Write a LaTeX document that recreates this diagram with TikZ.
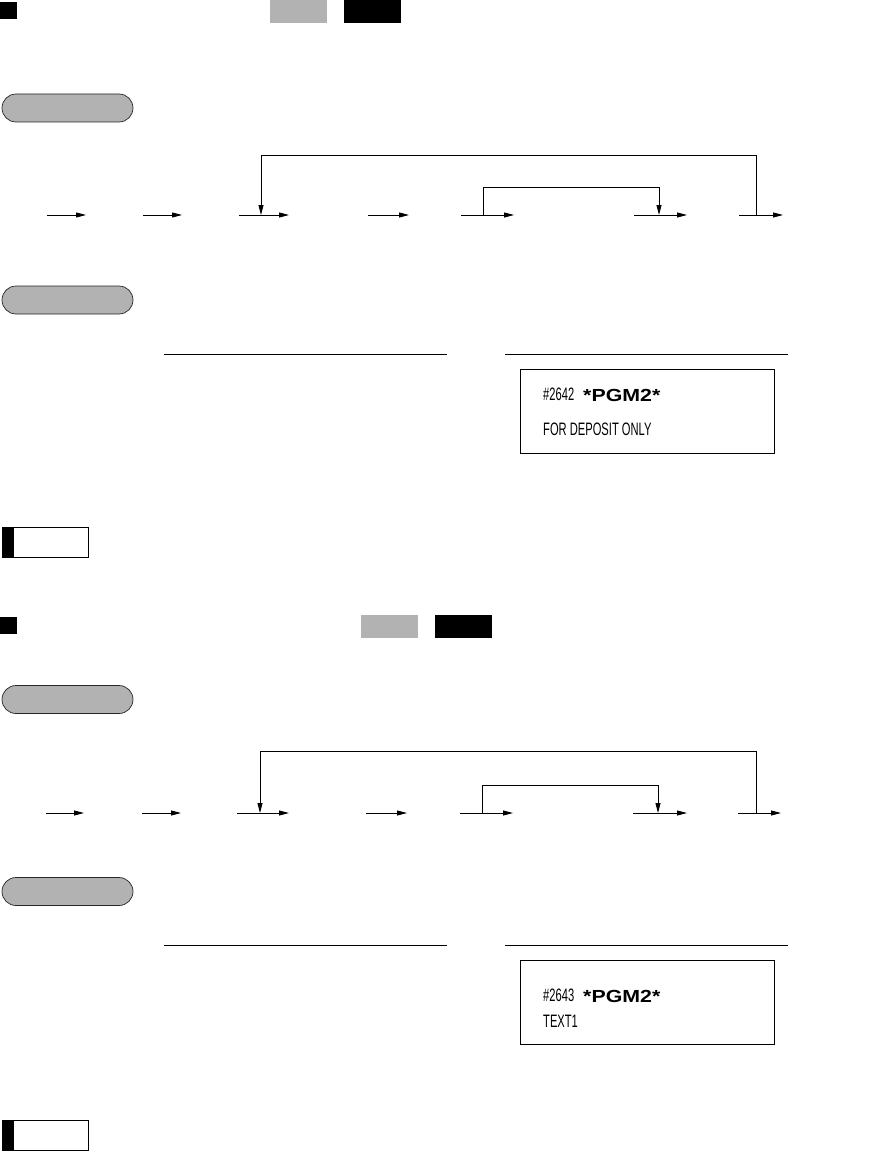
\documentclass[tikz,border=0pt]{standalone}
\usepackage{fontspec}
\usetikzlibrary{arrows.meta,positioning}
\newfontfamily\rcptfont[FakeStretch=0.62]{Liberation Sans}
\newfontfamily\rcptwide[FakeStretch=1.22]{Liberation Sans}
\tikzset{
  sqr/.style={fill=black, minimum size=17pt, inner sep=0pt},
  grykey/.style={fill=black!30, minimum width=57pt, minimum height=23pt, inner sep=0pt},
  blkkey/.style={fill=black, minimum width=57pt, minimum height=23pt, inner sep=0pt},
  pill/.style={draw=black!85, fill=black!30, rounded corners=14pt, minimum width=131pt, minimum height=28pt, inner sep=0pt, line width=0.7pt},
  notebox/.style={draw, line width=1pt, minimum width=86pt, minimum height=30pt, inner sep=0pt},
  rcpt/.style={draw, line width=0.9pt, minimum width=254pt, minimum height=84pt, inner sep=0pt},
  rule/.style={line width=1pt},
  arr/.style={-{Triangle[length=10pt, width=5pt]}, line width=0.9pt},
  rtxt/.style={anchor=base west, inner sep=0pt, font=\rcptfont\fontsize{18}{18}\selectfont},
  rbig/.style={anchor=base west, inner sep=0pt, font=\rcptwide\bfseries\fontsize{17.5}{18}\selectfont},
}

\begin{document}
\begin{tikzpicture}[x=1pt, y=-1pt]
\useasboundingbox (0,0) rectangle (886,1153);

% Section 1 heading
\node[sqr] (hd1) at (8.5,10.5) {};
\node[grykey] (g1) at (298.5,11.5) {};
\node[blkkey] (b1) at (372.5,11.5) {};

% Procedure
\node[pill] (proc1) at (67.5,108) {};

\foreach \i/\xs/\xe in {1/47/86, 2/143/182, 3/239/289, 4/368/409, 5/461/514, 6/634/687, 7/739/783} {
  \coordinate (r1s\i) at (\xs,215);
  \coordinate (r1e\i) at (\xe,215);
  \draw[arr] (r1s\i) -- (r1e\i);
}

% repeat loops
\coordinate (r1o1) at (756,215);
\coordinate (r1o2) at (261,155);
\coordinate (r1o3) at (261,215);
\draw[arr] (r1o1) |- (r1o2) -- (r1o3);
\coordinate (r1i1) at (483,215);
\coordinate (r1i2) at (659,187);
\coordinate (r1i3) at (659,215);
\draw[arr] (r1i1) |- (r1i2) -- (r1i3);

% Print
\node[pill] (prnt1) at (67.5,300) {};
\coordinate (l1a) at (164,354);
\coordinate (l1b) at (447,354);
\coordinate (l1c) at (505,354);
\coordinate (l1d) at (788,354);
\draw[rule] (l1a) -- (l1b);
\draw[rule] (l1c) -- (l1d);

\node[rcpt] (rc1) at (647,411) {};
\node[rtxt] (rc1a) at (543,400) {\#2642};
\node[rbig] (rc1b) at (583,401) {*PGM2*};
\node[rtxt] (rc1c) at (543,435) {FOR DEPOSIT ONLY};

% Note
\node[notebox] (nt1) at (45,542) {};
\fill (nt1.north west) rectangle ([xshift=12pt]nt1.south west);

% Section 2 heading
\node[sqr] (hd2) at (8.5,625.5) {};
\node[grykey] (g2) at (389.5,626.5) {};
\node[blkkey] (b2) at (463.5,626.5) {};

% Procedure
\node[pill] (proc2) at (67.5,699.5) {};

\foreach \i/\xs/\xe in {1/46/84, 2/142/181, 3/237/289, 4/366/407, 5/460/513, 6/633/687, 7/738/781} {
  \coordinate (r2s\i) at (\xs,813);
  \coordinate (r2e\i) at (\xe,813);
  \draw[arr] (r2s\i) -- (r2e\i);
}

% repeat loops
\coordinate (r2o1) at (756,813);
\coordinate (r2o2) at (260,751);
\coordinate (r2o3) at (260,813);
\draw[arr] (r2o1) |- (r2o2) -- (r2o3);
\coordinate (r2i1) at (482,813);
\coordinate (r2i2) at (658,785);
\coordinate (r2i3) at (658,813);
\draw[arr] (r2i1) |- (r2i2) -- (r2i3);

% Print
\node[pill] (prnt2) at (67.5,891.5) {};
\coordinate (l2a) at (164,945);
\coordinate (l2b) at (447,945);
\coordinate (l2c) at (505,945);
\coordinate (l2d) at (788,945);
\draw[rule] (l2a) -- (l2b);
\draw[rule] (l2c) -- (l2d);

\node[rcpt] (rc2) at (647,1002) {};
\node[rtxt] (rc2a) at (543,1001) {\#2643};
\node[rbig] (rc2b) at (583,1002) {*PGM2*};
\node[rtxt] (rc2c) at (543,1027) {TEXT1};

% Note
\node[notebox] (nt2) at (45,1135) {};
\fill (nt2.north west) rectangle ([xshift=12pt]nt2.south west);

\end{tikzpicture}
\end{document}
